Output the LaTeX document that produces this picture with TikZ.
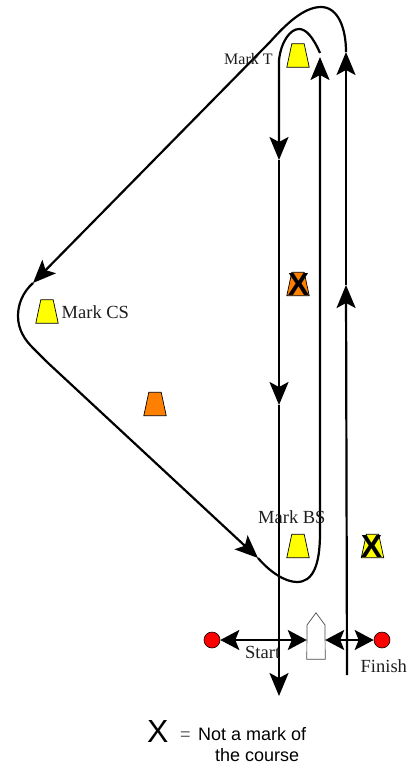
\documentclass[tikz,border=0pt]{standalone}
\usepackage{fontspec}
\setmainfont{Liberation Serif}
\newfontfamily\arialfont{Liberation Sans}
\usetikzlibrary{arrows.meta}
\definecolor{markyellow}{RGB}{255,255,0}
\definecolor{markorange}{RGB}{255,128,0}
\definecolor{labelgray}{RGB}{30,30,30}
\tikzset{
  markbox/.style={inner sep=0pt,minimum width=22pt,minimum height=23pt},
  markline/.style={draw=black,line width=0.7pt},
  crossout/.style={inner sep=0pt,font=\arialfont\bfseries\fontsize{32}{32}\selectfont,text=black},
  course/.style={draw=black,line width=2.2pt},
  tipped/.style={course,-{Stealth[length=23pt,width=19pt,inset=5pt]}},
  bothtips/.style={course,{Stealth[length=19pt,width=20pt,inset=4pt]}-{Stealth[length=19pt,width=20pt,inset=4pt]}},
  label/.style={anchor=base west,inner sep=0pt,font=\fontsize{18.5}{18.5}\selectfont,text=labelgray},
  legend/.style={anchor=base west,inner sep=0pt,font=\arialfont\fontsize{18}{18}\selectfont},
  pin/.style={circle,draw=black,line width=0.6pt,fill=red,minimum size=16pt,inner sep=0pt},
}
\newcommand{\coursemark}[3]{%
  \node[markbox] (#1) at (#2) {};
  \draw[markline,fill=#3] (#1.south west) -- ([xshift=5pt]#1.north west) -- ([xshift=-5pt]#1.north east) -- (#1.south east) -- cycle;
}
\begin{document}
\begin{tikzpicture}[x=1pt,y=-1pt]
\useasboundingbox (0,0) rectangle (407,770);
% marks
\coursemark{markT}{298,55.5}{markyellow}
\coursemark{markCS}{47,311.5}{markyellow}
\coursemark{markO}{155,404}{markorange}
\coursemark{markX}{298,284}{markorange}
\coursemark{markBS}{298,546}{markyellow}
\coursemark{markY}{372.5,546}{markyellow}
\node[crossout] (crossA) at (298.5,284) {X};
\node[crossout] (crossB) at (371.5,546) {X};
% coordinates
\coordinate (d0) at (320,53);
\coordinate (d1) at (279,60);
\coordinate (d2) at (279,160);
\coordinate (d3) at (279,405);
\coordinate (d4) at (279,696);
\coordinate (u0) at (320,533);
\coordinate (u1) at (320,57);
\coordinate (r0) at (347,675);
\coordinate (r1) at (346,285);
\coordinate (r2) at (346,52);
\coordinate (cs) at (33,283);
\coordinate (bs) at (258,558);
% course lines
\draw[tipped] (d0) .. controls (313,37) and (306,29) .. (299,29) .. controls (290,29) and (281,42) .. (d1) -- (d2);
\draw[tipped] (d2) -- (d3);
\draw[tipped] (d3) -- (d4);
\draw[tipped] (r2) .. controls (346,28) and (338,7) .. (321,7) .. controls (304,7) and (286,24) .. (270,42) -- (cs);
\draw[course] (cs) .. controls (22,293) and (18,305) .. (18,316) .. controls (18,330) and (25,340) .. (33,348) -- (47,362);
\draw[tipped] (47,362) -- (bs);
\draw[tipped] (bs) .. controls (270,572) and (285,582) .. (297,582) .. controls (313,582) and (320,565) .. (u0) -- (u1);
\draw[tipped] (r0) -- (r1);
\draw[tipped] (r1) -- (r2);
% start / finish
\node[pin] (pinS) at (212,640) {};
\node[pin] (pinF) at (382,640) {};
\node[inner sep=0pt,minimum width=18pt,minimum height=46pt] (boat) at (316,636) {};
\draw[draw=black!70,line width=0.7pt,fill=white] (boat.south west) -- (307,625) -- (boat.north) -- (325,625) -- (boat.south east) -- cycle;
\draw[bothtips] (pinS.east) -- (pinS.east -| boat.west);
\draw[bothtips] (pinF.west -| boat.east) -- (pinF.west);
% labels
\node[label,font=\fontsize{16}{16}\selectfont] (tT) at (224,65) {Mark T};
\node[label] (tCS) at (61.5,318) {Mark CS};
\node[label] (tBS) at (258,523) {Mark BS};
\node[label] (tS) at (245,658) {Start};
\node[label] (tF) at (360.5,672) {Finish};
% legend
\node[anchor=base west,inner sep=0pt,font=\arialfont\fontsize{32}{32}\selectfont] (tX) at (147,742) {X};
\node[legend,text=black!60] (tEq) at (180,740) {=};
\node[legend] (t1) at (198,740) {Not a mark of};
\node[legend] (t2) at (215,761) {the course};
\end{tikzpicture}
\end{document}
